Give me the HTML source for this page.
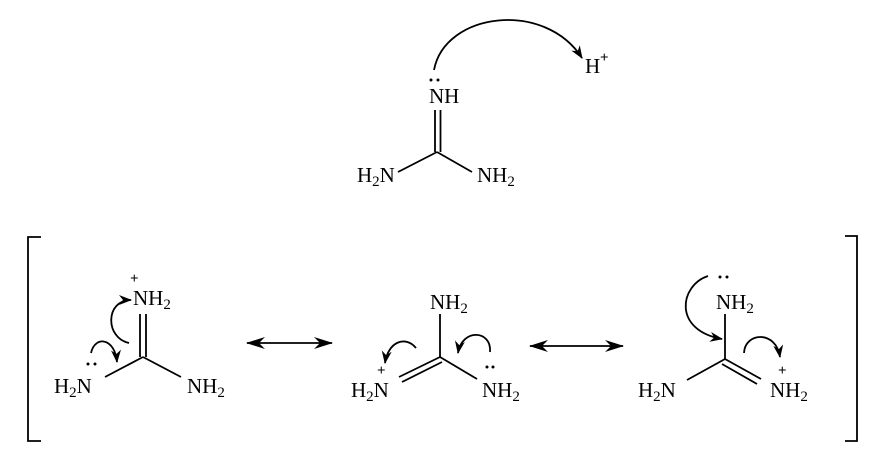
<!DOCTYPE html>
<html><head><meta charset="utf-8"><style>
html,body{margin:0;padding:0;background:#fff;}
svg{display:block;}
text{font-family:"Liberation Serif",serif;font-size:21px;fill:#000;}
.s{font-size:15px;}
.p{font-size:15px;font-weight:bold;}
</style></head><body>
<svg width="879" height="456" viewBox="0 0 879 456" xmlns="http://www.w3.org/2000/svg">
<defs>
<marker id="ah" markerWidth="14" markerHeight="10" refX="12" refY="5" orient="auto" markerUnits="userSpaceOnUse">
<path d="M0,0 L13,5 L0,10 L4,5 Z" fill="#000"/>
</marker>
<marker id="dh" markerWidth="20" markerHeight="12" refX="18" refY="6" orient="auto-start-reverse" markerUnits="userSpaceOnUse">
<path d="M0,0 L19,6 L0,12 L6,6 Z" fill="#000"/>
</marker>
</defs>
<g stroke="#000" stroke-width="1.8" fill="none">
<line x1="435" y1="110" x2="435" y2="152"/>
<line x1="440.5" y1="110" x2="440.5" y2="152"/>
<line x1="437" y1="152" x2="398" y2="172"/>
<line x1="437" y1="152" x2="472" y2="172"/>
<path d="M434,70 C445,12 545,0 582,58" marker-end="url(#ah)"/>
<polyline points="41,237 28,237 28,441 41,441"/>
<polyline points="845,236 857,236 857,441 845,441"/>
<line x1="140" y1="314" x2="140" y2="357"/>
<line x1="146" y1="314" x2="146" y2="357"/>
<line x1="143" y1="357" x2="105" y2="377"/>
<line x1="143" y1="357" x2="181" y2="377"/>
<path d="M129,343 C105,338 105,300 131,300" marker-end="url(#ah)"/>
<path d="M91,353 C95,335 115,338 117,362" marker-end="url(#ah)"/>
<line x1="247" y1="343" x2="332" y2="343" marker-start="url(#dh)" marker-end="url(#dh)"/>
<line x1="530" y1="346" x2="623" y2="346" marker-start="url(#dh)" marker-end="url(#dh)"/>
<line x1="440" y1="314" x2="440" y2="357"/>
<line x1="440" y1="357" x2="477" y2="379"/>
<line x1="440" y1="357" x2="399" y2="377"/>
<line x1="442" y1="362" x2="402" y2="382"/>
<path d="M416,348 C405,335 388,342 385,363" marker-end="url(#ah)"/>
<path d="M490,352 C492,330 462,328 458,353" marker-end="url(#ah)"/>
<line x1="725" y1="314" x2="725" y2="359"/>
<line x1="725" y1="359" x2="687" y2="380"/>
<line x1="725" y1="359" x2="761" y2="379"/>
<line x1="722" y1="364" x2="757" y2="384"/>
<path d="M708,276 C680,285 672,330 722,339" marker-end="url(#ah)"/>
<path d="M744,353 C745,332 776,330 780,357" marker-end="url(#ah)"/>
</g>
<g fill="#000">
<circle cx="431" cy="80" r="1.5"/><circle cx="438" cy="80" r="1.5"/>
<circle cx="88" cy="364" r="1.5"/><circle cx="95" cy="364" r="1.5"/>
<circle cx="487" cy="367" r="1.5"/><circle cx="493" cy="367" r="1.5"/>
<circle cx="720" cy="277" r="1.5"/><circle cx="727" cy="277" r="1.5"/>
</g>
<text x="429" y="103">NH</text>
<text x="357" y="182">H<tspan class="s" dy="4">2</tspan><tspan dy="-4">N</tspan></text>
<text x="477" y="182">NH<tspan class="s" dy="4">2</tspan></text>
<text x="585" y="73">H</text>
<text class="p" x="600" y="62">+</text>
<text class="p" x="130" y="283">+</text>
<text x="133" y="305">NH<tspan class="s" dy="4">2</tspan></text>
<text x="54" y="393">H<tspan class="s" dy="4">2</tspan><tspan dy="-4">N</tspan></text>
<text x="187" y="393">NH<tspan class="s" dy="4">2</tspan></text>
<text x="430" y="309">NH<tspan class="s" dy="4">2</tspan></text>
<text class="p" x="377" y="375">+</text>
<text x="351" y="397">H<tspan class="s" dy="4">2</tspan><tspan dy="-4">N</tspan></text>
<text x="482" y="397">NH<tspan class="s" dy="4">2</tspan></text>
<text x="716" y="309">NH<tspan class="s" dy="4">2</tspan></text>
<text x="638" y="397">H<tspan class="s" dy="4">2</tspan><tspan dy="-4">N</tspan></text>
<text class="p" x="778" y="375">+</text>
<text x="770" y="397">NH<tspan class="s" dy="4">2</tspan></text>
</svg>
</body></html>
